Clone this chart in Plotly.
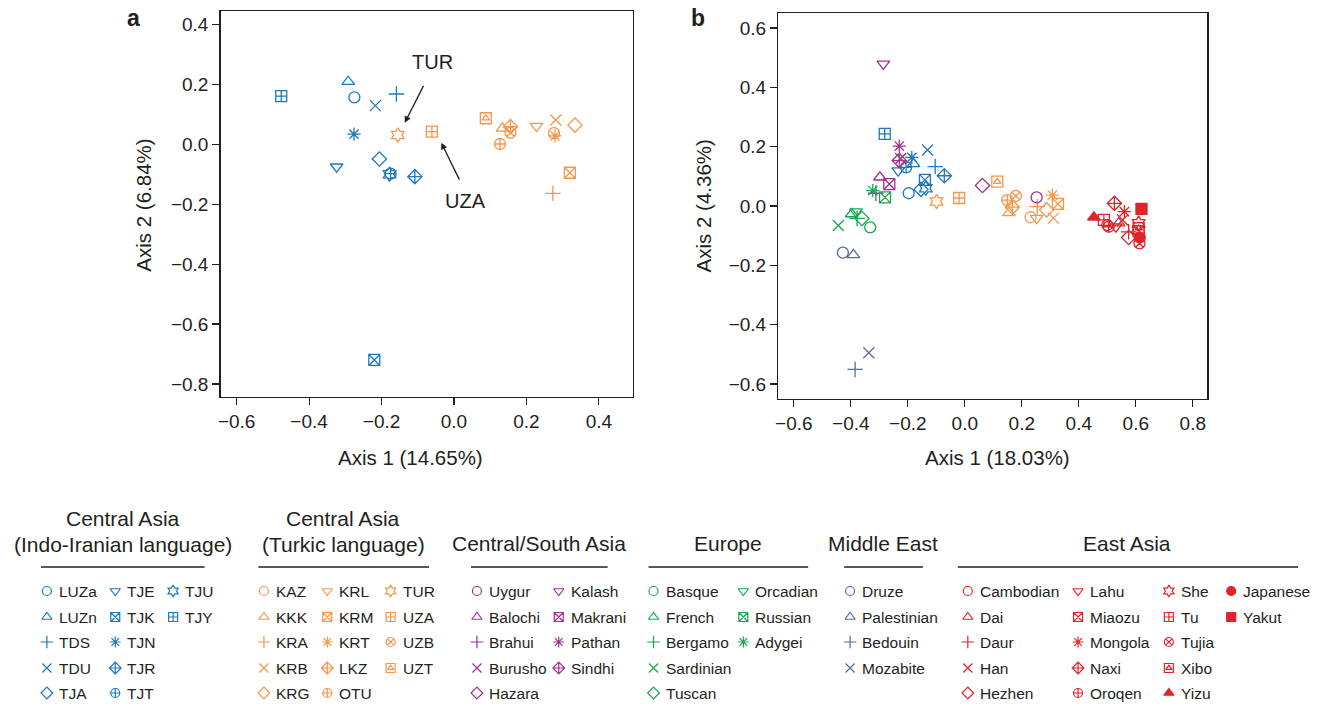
import plotly.graph_objects as go

# ---------------- data ----------------
INDO_POPS = ["LUZa", "LUZn", "TDS", "TDU", "TJA", "TJE", "TJK", "TJN", "TJR", "TJT", "TJU", "TJY"]
INDO_A_X = [-0.275, -0.292, -0.159, -0.217, -0.206, -0.324, -0.220, -0.276, -0.108, -0.175, -0.178, -0.477]
INDO_A_Y = [0.157, 0.209, 0.168, 0.129, -0.049, -0.075, -0.720, 0.034, -0.108, -0.098, -0.100, 0.161]
INDO_B_X = [-0.197, -0.180, -0.104, -0.131, -0.154, -0.234, -0.140, -0.186, -0.072, -0.206, -0.137, -0.281]
INDO_B_Y = [0.043, 0.142, 0.133, 0.189, 0.056, 0.119, 0.088, 0.164, 0.102, 0.130, 0.060, 0.243]

TURK_POPS = ["KAZ", "KKK", "KRA", "KRB", "KRG", "KRL", "KRM", "KRT", "LKZ", "OTU", "TUR", "UZA", "UZB", "UZT"]
TURK_A_X = [0.276, 0.134, 0.273, 0.281, 0.334, 0.228, 0.320, 0.279, 0.156, 0.127, -0.155, -0.061, 0.156, 0.088]
TURK_A_Y = [0.037, 0.053, -0.164, 0.081, 0.064, 0.061, -0.095, 0.028, 0.059, 0.001, 0.031, 0.042, 0.039, 0.087]
TURK_B_X = [0.231, 0.155, 0.254, 0.311, 0.287, 0.252, 0.327, 0.307, 0.167, 0.149, -0.099, -0.020, 0.179, 0.114]
TURK_B_Y = [-0.038, -0.023, -0.002, -0.041, -0.013, -0.041, 0.007, 0.037, -0.004, 0.020, 0.015, 0.027, 0.034, 0.082]

CSA_POPS = ["Uygur", "Balochi", "Brahui", "Burusho", "Hazara", "Kalash", "Makrani", "Pathan", "Sindhi"]
CSA_B_X = [0.252, -0.298, -0.312, -0.225, 0.062, -0.286, -0.265, -0.230, -0.230]
CSA_B_Y = [0.029, 0.097, 0.043, 0.160, 0.069, 0.479, 0.074, 0.202, 0.153]

EUR_POPS = ["Basque", "French", "Bergamo", "Sardinian", "Tuscan", "Orcadian", "Russian", "Adygei"]
EUR_B_X = [-0.332, -0.397, -0.378, -0.444, -0.361, -0.382, -0.280, -0.323]
EUR_B_Y = [-0.072, -0.027, -0.042, -0.066, -0.042, -0.019, 0.029, 0.052]

ME_POPS = ["Druze", "Palestinian", "Bedouin", "Mozabite"]
ME_B_X = [-0.428, -0.391, -0.385, -0.337]
ME_B_Y = [-0.157, -0.165, -0.551, -0.495]

EAS_POPS = ["Cambodian", "Dai", "Daur", "Han", "Hezhen", "Lahu", "Miaozu", "Mongola", "Naxi",
            "Oroqen", "She", "Tu", "Tujia", "Xibo", "Yizu", "Japanese", "Yakut"]
EAS_B_X = [0.500, 0.540, 0.575, 0.554, 0.575, 0.530, 0.610, 0.560, 0.525,
           0.505, 0.610, 0.488, 0.613, 0.610, 0.453, 0.614, 0.620]
EAS_B_Y = [-0.064, -0.058, -0.087, -0.047, -0.106, -0.070, -0.085, -0.019, 0.009,
           -0.070, -0.058, -0.047, -0.126, -0.075, -0.038, -0.106, -0.010]

GROUP_TITLES = [["Central Asia", "(Indo-Iranian language)"], ["Central Asia", "(Turkic language)"],
                ["Central/South Asia"], ["Europe"], ["Middle East"], ["East Asia"]]

AXIS_A_X_TITLE = "Axis 1 (14.65%)"
AXIS_A_Y_TITLE = "Axis 2 (6.84%)"
AXIS_B_X_TITLE = "Axis 1 (18.03%)"
AXIS_B_Y_TITLE = "Axis 2 (4.36%)"
A_XTICKS = [-0.6, -0.4, -0.2, 0.0, 0.2, 0.4]
A_YTICKS = [-0.8, -0.6, -0.4, -0.2, 0.0, 0.2, 0.4]
B_XTICKS = [-0.6, -0.4, -0.2, 0.0, 0.2, 0.4, 0.6, 0.8]
B_YTICKS = [-0.6, -0.4, -0.2, 0.0, 0.2, 0.4, 0.6]

# ---------------- style ----------------
W, H = 1326, 706
FONT = "Liberation Sans, Arial, Helvetica, sans-serif"
COLORS = ["#1F78BE", "#F7954A", "#A3318F", "#17A84F", "#5C6C98", "#E1242B"]
SYMBOLS = ["circle-open", "triangle-up-open", "cross-thin-open", "x-thin-open", "diamond-open",
           "triangle-down-open", "square-x-open", "asterisk-open", "diamond-cross-open",
           "circle-cross-open", "hexagram-open", "square-cross-open", "circle-x-open", "BOXTRI",
           "triangle-up", "circle", "square"]

groups = [
    (INDO_POPS, INDO_A_X, INDO_A_Y, INDO_B_X, INDO_B_Y),
    (TURK_POPS, TURK_A_X, TURK_A_Y, TURK_B_X, TURK_B_Y),
    (CSA_POPS, None, None, CSA_B_X, CSA_B_Y),
    (EUR_POPS, None, None, EUR_B_X, EUR_B_Y),
    (ME_POPS, None, None, ME_B_X, ME_B_Y),
    (EAS_POPS, None, None, EAS_B_X, EAS_B_Y),
]

fig = go.Figure()


def add_marks(xs, ys, color, size, xa, ya, lw=1.3):
    syms = [SYMBOLS[i] for i in range(len(xs))]
    main = [("square-open" if s == "BOXTRI" else s) for s in syms]
    fig.add_trace(go.Scatter(
        x=xs, y=ys, mode="markers", xaxis=xa, yaxis=ya, showlegend=False, hoverinfo="skip",
        marker=dict(symbol=main, size=size, color=color, line=dict(color=color, width=lw))))
    bx = [x for x, s in zip(xs, syms) if s == "BOXTRI"]
    by = [y for y, s in zip(ys, syms) if s == "BOXTRI"]
    if bx:
        fig.add_trace(go.Scatter(
            x=bx, y=by, mode="markers", xaxis=xa, yaxis=ya, showlegend=False, hoverinfo="skip",
            marker=dict(symbol="triangle-up-open", size=size * 0.6, color=color,
                        line=dict(color=color, width=lw))))


# legend layout (pixel coordinates, invisible axis x3/y3)
ROWS_Y = [591, 617, 642, 668, 693]
LEG = [
    dict(center=120, line=(38, 202), cols=[44, 112.5, 170.5]),
    dict(center=341, line=(256, 427), cols=[261.5, 325, 388.5]),
    dict(center=537, line=(469, 606), cols=[475, 557]),
    dict(center=727, line=(647, 807), cols=[652, 742]),
    dict(center=882, line=(843, 922), cols=[849]),
    dict(center=1127, line=(957, 1298), cols=[967, 1077.5, 1168.5, 1231]),
]

annotations = []
shapes = []

for gi, (pops, ax_, ay_, bx_, by_) in enumerate(groups):
    c = COLORS[gi]
    if ax_ is not None:
        add_marks(ax_, ay_, c, 11, "x", "y")
    add_marks(bx_, by_, c, 11, "x2", "y2")
    # legend
    lay = LEG[gi]
    lx, ly = [], []
    for i, p in enumerate(pops):
        col, row = divmod(i, 5)
        mx = lay["cols"][col]
        my = ROWS_Y[row]
        lx.append(mx)
        ly.append(my)
        annotations.append(dict(x=mx + 10, y=my, xref="x3", yref="y3", text=p, showarrow=False,
                                xanchor="left", yanchor="middle",
                                font=dict(family=FONT, size=15.5, color="#231F20")))
    add_marks(lx, ly, c, 9, "x3", "y3", lw=1.2)
    titles = GROUP_TITLES[gi]
    if len(titles) == 2:
        tys = [518, 544]
    else:
        tys = [543]
    for t, ty in zip(titles, tys):
        annotations.append(dict(x=lay["center"], y=ty, xref="x3", yref="y3", text=t, showarrow=False,
                                xanchor="center", yanchor="middle",
                                font=dict(family=FONT, size=21, color="#231F20")))
    shapes.append(dict(type="line", xref="x3", yref="y3", x0=lay["line"][0], x1=lay["line"][1],
                       y0=567, y1=567, line=dict(color="#231F20", width=1.3)))


def P(px, py):
    return px / W, 1 - py / H


# axis titles & panel labels
for txt, (px, py), ang in [(AXIS_A_X_TITLE, (408, 457), 0), (AXIS_A_Y_TITLE, (140, 205), -90),
                           (AXIS_B_X_TITLE, (997, 457), 0), (AXIS_B_Y_TITLE, (703, 206), -90)]:
    x, y = P(px, py)
    annotations.append(dict(x=x, y=y, xref="paper", yref="paper", text=txt, showarrow=False,
                            textangle=ang, xanchor="center", yanchor="middle",
                            font=dict(family=FONT, size=20.5, color="#231F20")))
for txt, (px, py) in [("a", (131, 18)), ("b", (697, 18))]:
    x, y = P(px, py)
    annotations.append(dict(x=x, y=y, xref="paper", yref="paper", text="<b>" + txt + "</b>",
                            showarrow=False, xanchor="center", yanchor="middle",
                            font=dict(family=FONT, size=23, color="#231F20")))

# TUR / UZA callouts in panel a
annotations.append(dict(x=-0.058, y=0.275, xref="x", yref="y", text="TUR", showarrow=False,
                        font=dict(family=FONT, size=20, color="#231F20")))
annotations.append(dict(x=-0.136, y=0.072, ax=-0.082, ay=0.200, xref="x", yref="y", axref="x",
                        ayref="y", text="", showarrow=True, arrowhead=2, arrowsize=1,
                        arrowwidth=1.3, arrowcolor="#231F20"))
annotations.append(dict(x=0.033, y=-0.189, xref="x", yref="y", text="UZA", showarrow=False,
                        font=dict(family=FONT, size=20, color="#231F20")))
annotations.append(dict(x=-0.035, y=0.005, ax=0.017, ay=-0.123, xref="x", yref="y", axref="x",
                        ayref="y", text="", showarrow=True, arrowhead=2, arrowsize=1,
                        arrowwidth=1.3, arrowcolor="#231F20"))

axis_common = dict(showgrid=False, zeroline=False, showline=True, mirror=True, linecolor="#231F20",
                   linewidth=1.3, ticks="outside", ticklen=7, tickwidth=1.2, tickcolor="#231F20",
                   tickfont=dict(family=FONT, size=19, color="#231F20"), tickformat=".1f")

A_L, A_R, A_T, A_B = 218, 631, 11, 397
B_L, B_R, B_T, B_B = 777, 1207, 13, 399

fig.update_layout(
    width=W, height=H, margin=dict(l=0, r=0, t=0, b=0),
    paper_bgcolor="white", plot_bgcolor="rgba(0,0,0,0)",
    xaxis=dict(domain=[A_L / W, A_R / W], range=[(A_L - 452) / 363, (A_R - 452) / 363],
               tickvals=A_XTICKS, anchor="y", **axis_common),
    yaxis=dict(domain=[1 - A_B / H, 1 - A_T / H], range=[(144.3 - A_B) / 299.5, (144.3 - A_T) / 299.5],
               tickvals=A_YTICKS, anchor="x", **axis_common),
    xaxis2=dict(domain=[B_L / W, B_R / W], range=[(B_L - 964) / 285.6, (B_R - 964) / 285.6],
                tickvals=B_XTICKS, anchor="y2", **axis_common),
    yaxis2=dict(domain=[1 - B_B / H, 1 - B_T / H], range=[(206 - B_B) / 296.6, (206 - B_T) / 296.6],
                tickvals=B_YTICKS, anchor="x2", **axis_common),
    xaxis3=dict(domain=[0, 1], range=[0, W], visible=False, anchor="y3"),
    yaxis3=dict(domain=[0, 1], range=[H, 0], visible=False, anchor="x3"),
    annotations=annotations, shapes=shapes,
)

fig.write_html("out.html", config={"displayModeBar": False, "staticPlot": True},
               post_script="document.body.style.margin='0';document.body.style.overflow='hidden';")
